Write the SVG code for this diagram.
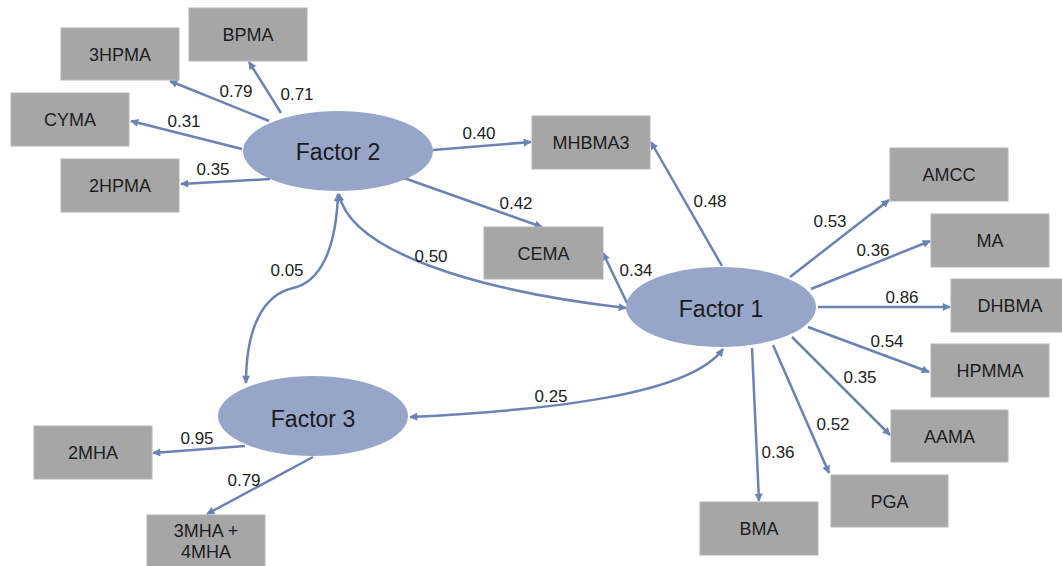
<svg xmlns="http://www.w3.org/2000/svg" width="1062" height="566" viewBox="0 0 1062 566">
<defs>
<marker id="ah" viewBox="0 0 10 10" refX="9" refY="5" markerWidth="9" markerHeight="8" markerUnits="userSpaceOnUse" orient="auto-start-reverse">
<path d="M0,0 L10,5 L0,10 z" fill="#6b83b4"/>
</marker>
<style>
.box{fill:#a6a6a6;stroke:#b4b4b4;stroke-width:1}
.bt{font-family:"Liberation Sans",Arial,sans-serif;font-size:18px;fill:#1e1e1e;text-anchor:middle}
.fac{fill:#97a6c8}
.ft{font-family:"Liberation Sans",Arial,sans-serif;font-size:23px;fill:#1a1a1a;text-anchor:middle}
.c{fill:none;stroke:#6b83b4;stroke-width:2.5;marker-end:url(#ah)}
.d{fill:none;stroke:#6b83b4;stroke-width:2.5;marker-end:url(#ah);marker-start:url(#ah)}
.lb{font-family:"Liberation Sans",Arial,sans-serif;font-size:17px;fill:#222;text-anchor:middle}
</style>
</defs>
<rect width="1062" height="566" fill="#fff"/>
<g id="connectors">
<path class="c" d="M281 113 L249 62"/>
<path class="c" d="M269 121 L170 81"/>
<path class="c" d="M242 149 L131 121"/>
<path class="c" d="M270 179 L181 184"/>
<path class="c" d="M433 150 L531 142"/>
<path class="c" d="M404 178 L542 227"/>
<path class="c" d="M722 266 L651 142"/>
<path class="c" d="M627 303 L603 253"/>
<path class="c" d="M790 277 L889 200"/>
<path class="c" d="M811 289 L930 241"/>
<path class="c" d="M818 307 L950 307"/>
<path class="c" d="M808 327 L929 372"/>
<path class="c" d="M792 337 L890 435"/>
<path class="c" d="M773 345 L829 473"/>
<path class="c" d="M752 348 L759 501"/>
<path class="c" d="M245 446 L153 453"/>
<path class="c" d="M313 457 L207 514"/>
<path class="d" d="M339 194 C350 250 470 290 626 308"/>
<path class="d" d="M246 383 C246 330 262 295 293 288 C320 282 336 250 338 194"/>
<path class="d" d="M410 417 C550 410 690 395 723 349"/>
</g>
<g id="labels">
<text class="lb" x="236" y="97">0.79</text>
<text class="lb" x="297" y="100">0.71</text>
<text class="lb" x="184" y="127">0.31</text>
<text class="lb" x="213" y="175">0.35</text>
<text class="lb" x="479" y="139">0.40</text>
<text class="lb" x="516" y="209">0.42</text>
<text class="lb" x="431" y="262">0.50</text>
<text class="lb" x="287" y="276">0.05</text>
<text class="lb" x="710" y="207">0.48</text>
<text class="lb" x="636" y="276">0.34</text>
<text class="lb" x="551" y="402">0.25</text>
<text class="lb" x="830" y="227">0.53</text>
<text class="lb" x="873" y="256">0.36</text>
<text class="lb" x="902" y="303">0.86</text>
<text class="lb" x="887" y="347">0.54</text>
<text class="lb" x="860" y="383">0.35</text>
<text class="lb" x="833" y="430">0.52</text>
<text class="lb" x="778" y="458">0.36</text>
<text class="lb" x="197" y="444">0.95</text>
<text class="lb" x="244" y="486">0.79</text>
</g>
<g id="factor2"><ellipse class="fac" cx="338" cy="151" rx="95" ry="40"/><text class="ft" x="338" y="160">Factor 2</text></g>
<g id="factor1"><ellipse class="fac" cx="721" cy="307" rx="95" ry="40"/><text class="ft" x="721" y="317">Factor 1</text></g>
<g id="factor3"><ellipse class="fac" cx="313" cy="416" rx="95" ry="40"/><text class="ft" x="313" y="427">Factor 3</text></g>
<g id="BPMA"><rect class="box" x="189" y="8" width="118" height="53"/><text class="bt" x="248" y="41">BPMA</text></g>
<g id="3HPMA"><rect class="box" x="61" y="28" width="118" height="52"/><text class="bt" x="120" y="60.5">3HPMA</text></g>
<g id="CYMA"><rect class="box" x="11" y="93" width="118" height="53"/><text class="bt" x="70" y="126">CYMA</text></g>
<g id="2HPMA"><rect class="box" x="61" y="159" width="118" height="53"/><text class="bt" x="120" y="192">2HPMA</text></g>
<g id="MHBMA3"><rect class="box" x="532" y="116" width="118" height="53"/><text class="bt" x="591" y="149">MHBMA3</text></g>
<g id="CEMA"><rect class="box" x="484" y="227" width="119" height="52"/><text class="bt" x="543.5" y="259.5">CEMA</text></g>
<g id="AMCC"><rect class="box" x="890" y="148" width="118" height="53"/><text class="bt" x="949" y="181">AMCC</text></g>
<g id="MA"><rect class="box" x="931" y="214" width="118" height="53"/><text class="bt" x="990" y="247">MA</text></g>
<g id="DHBMA"><rect class="box" x="951" y="279" width="118" height="53"/><text class="bt" x="1010" y="312">DHBMA</text></g>
<g id="HPMMA"><rect class="box" x="931" y="344" width="118" height="53"/><text class="bt" x="990" y="377">HPMMA</text></g>
<g id="AAMA"><rect class="box" x="891" y="410" width="117" height="52"/><text class="bt" x="949.5" y="442.5">AAMA</text></g>
<g id="PGA"><rect class="box" x="831" y="475" width="117" height="52"/><text class="bt" x="889.5" y="507.5">PGA</text></g>
<g id="BMA"><rect class="box" x="700" y="502" width="118" height="53"/><text class="bt" x="759" y="535">BMA</text></g>
<g id="2MHA"><rect class="box" x="34" y="426" width="118" height="53"/><text class="bt" x="93" y="459">2MHA</text></g>
<g id="3MHA4MHA"><rect class="box" x="147" y="515" width="118" height="53"/><text class="bt" x="206" y="537">3MHA +</text><text class="bt" x="206" y="558">4MHA</text></g>
</svg>
